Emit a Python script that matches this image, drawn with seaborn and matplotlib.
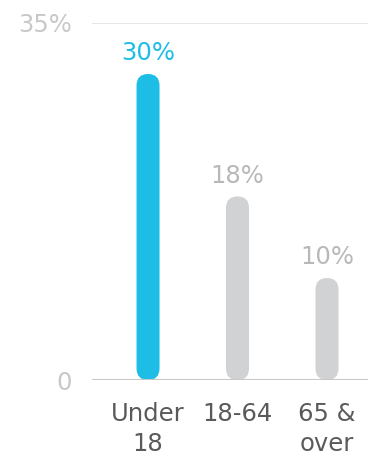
import matplotlib
matplotlib.use("Agg")
import matplotlib.pyplot as plt
from matplotlib.patches import FancyBboxPatch
import seaborn as sns
import pandas as pd

categories = ["Under\n18", "18-64", "65 &\nover"]
shares = [30, 18, 10]
bar_colors = ["#1dbde6", "#d1d2d4", "#d1d2d4"]
label_colors = ["#1dbde6", "#b8b8b8", "#b8b8b8"]
y_ticks = [0, 35]
y_tick_labels = ["0", "35%"]

sns.set_theme(style="white")
plt.rcParams["font.family"] = ["DejaVu Sans"]

df = pd.DataFrame({"group": categories, "share": shares})

fig = plt.figure(figsize=(3.68, 4.58), dpi=100)
ax = fig.add_axes([0.25, 0.1703, 0.75, 0.7795])

bar_w = 0.257
sns.barplot(data=df, x="group", y="share", hue="group", palette=bar_colors,
            width=bar_w, legend=False, ax=ax, saturation=1)

ax.set_xlim(-0.626, 2.458)
ax.set_ylim(0, 35)

# swap the square bars for pill shapes with fully rounded ends
fig.canvas.draw()
px_per_x = ax.transData.transform((1, 0))[0] - ax.transData.transform((0, 0))[0]
px_per_y = ax.transData.transform((0, 1))[1] - ax.transData.transform((0, 0))[1]
aspect = px_per_x / px_per_y
for patch in list(ax.patches):
    x0, w, h = patch.get_x(), patch.get_width(), patch.get_height()
    color = patch.get_facecolor()
    patch.remove()
    ax.add_patch(FancyBboxPatch((x0, 0), w, h,
                                boxstyle=f"round,pad=0,rounding_size={w / 2}",
                                mutation_aspect=aspect,
                                facecolor=color, edgecolor="none", zorder=3))

for i, v in enumerate(shares):
    ax.annotate(f"{v}%", (i, v), xytext=(0, 10), textcoords="offset points",
                ha="center", va="baseline", fontsize=17.5, color=label_colors[i])

ax.set_yticks(y_ticks)
ax.set_yticklabels(y_tick_labels, fontsize=17.5, color="#c8c8c8")
ax.tick_params(axis="y", length=0, pad=14.4)
ax.tick_params(axis="x", length=0, pad=16, labelsize=17.5, labelcolor="#5a5a5a")
for lbl in ax.get_xticklabels():
    lbl.set_linespacing(1.3)

ax.axhline(35, color="#e3e3e3", lw=1.2, zorder=1)
ax.axhline(0, color="#c8c8c8", lw=1.5, zorder=4)

for s in ax.spines.values():
    s.set_visible(False)
ax.set_xlabel("")
ax.set_ylabel("")
ax.grid(False)

fig.savefig("out.png", dpi=100)
